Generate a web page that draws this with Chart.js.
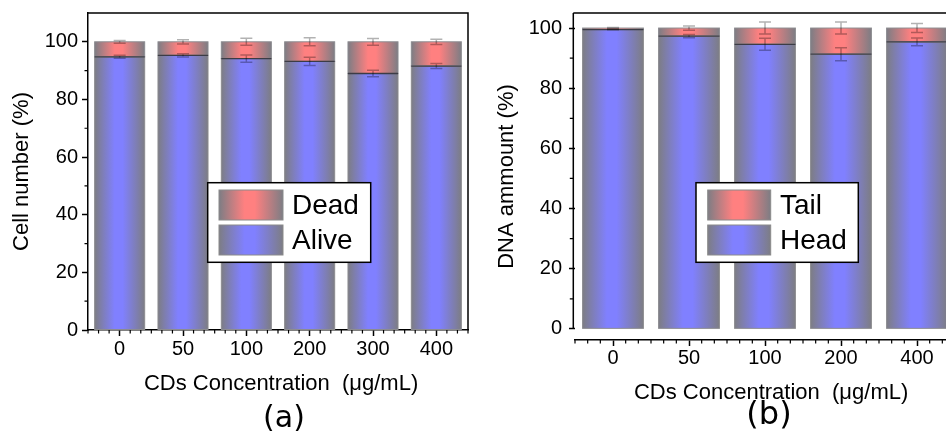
<!DOCTYPE html>
<html>
<head>
<meta charset="utf-8">
<script src="https://cdn.jsdelivr.net/npm/chart.js@4.4.0/dist/chart.umd.min.js"></script>
<style>
html, body { margin: 0; padding: 0; background: #fff; overflow: hidden; }
body { width: 946px; height: 432px; position: relative; }
.panel { position: absolute; top: 0; width: 480px; height: 432px; }
#wrapA { left: 0; }
#wrapB { left: 480px; }
.tag { position: absolute; font-family: "DejaVu Sans"; color: #000; transform: translate(-50%, -50%); white-space: nowrap; }
</style>
</head>
<body>
<div class="panel" id="wrapA"><canvas id="chartA" width="480" height="432"></canvas></div>
<div class="panel" id="wrapB"><canvas id="chartB" width="480" height="432"></canvas></div>
<div class="tag" style="left:284px;top:416px;font-size:30px">(a)</div>
<div class="tag" style="left:769px;top:413px;font-size:32px">(b)</div>
<script>
// Данные панели (a): живые / мёртвые клетки
const labelsA = ['0', '50', '100', '200', '300', '400'];
const aliveA = [94.8, 95.3, 94.2, 93.2, 89.0, 91.6];
const aliveErrA = [0.5, 0.6, 1.25, 1.45, 1.15, 0.9];
const deadA = [5.2, 4.7, 5.8, 6.8, 11.0, 8.4];
const deadErrA = [0.5, 0.75, 1.2, 1.4, 1.15, 0.9];

// Данные панели (b): ДНК в голове / хвосте кометы
const labelsB = ['0', '50', '100', '200', '400'];
const headB = [99.5, 97.3, 94.6, 91.3, 95.4];
const headErrB = [0.1, 0.55, 2.0, 2.15, 1.3];
const tailB = [0.5, 2.7, 5.4, 8.7, 4.6];
const tailErrB = [0.2, 0.7, 2.0, 2.0, 1.5];

const yTicks = [0, 20, 40, 60, 80, 100];
const yMinor = [10, 30, 50, 70, 90];

const BLUE = '#8080ff';
const RED = '#ff8080';
const GRAY = '#7d7d84';
const FONT = 'Liberation Sans';

function addStops(g, color) {
    g.addColorStop(0, GRAY);
    g.addColorStop(0.4, color);
    g.addColorStop(0.56, color);
    g.addColorStop(1, GRAY);
    return g;
}

// Градиент серый - цвет - серый поперёк столбика
function barGradient(ctx, color, pct) {
    const chart = ctx.chart;
    const xs = chart.scales.x;
    if (!xs || !chart.chartArea || ctx.dataIndex === undefined) return color;
    const cx = xs.getPixelForValue(ctx.dataIndex);
    const w = (xs.getPixelForValue(1) - xs.getPixelForValue(0)) * pct;
    return addStops(chart.ctx.createLinearGradient(cx - w / 2, 0, cx + w / 2, 0), color);
}

// Контуры столбиков, граница между частями и планки погрешностей
const barMarks = {
    id: 'barMarks',
    afterDatasetsDraw(chart) {
        const { ctx, scales: { x, y } } = chart;
        ctx.save();
        chart.data.datasets.forEach((ds, di) => {
            chart.getDatasetMeta(di).data.forEach(bar => {
                const p = bar.getProps(['x', 'y', 'base', 'width'], true);
                ctx.strokeStyle = '#8c8c90';
                ctx.lineWidth = 1;
                ctx.strokeRect(p.x - p.width / 2, p.y, p.width, p.base - p.y);
            });
        });
        // тёмная линия на стыке двух частей
        chart.getDatasetMeta(0).data.forEach(bar => {
            const p = bar.getProps(['x', 'y', 'width'], true);
            ctx.strokeStyle = '#3c3c46';
            ctx.lineWidth = 1.3;
            ctx.beginPath();
            ctx.moveTo(p.x - p.width / 2, p.y);
            ctx.lineTo(p.x + p.width / 2, p.y);
            ctx.stroke();
        });

        ctx.strokeStyle = 'rgba(0,0,0,0.3)';
        ctx.lineWidth = 1.5;
        chart.data.datasets.forEach((ds, di) => {
            ds.data.forEach((v, i) => {
                let top = 0;
                for (let k = 0; k <= di; k++) top += chart.data.datasets[k].data[i];
                const e = ds.errors[i];
                const cx = x.getPixelForValue(i);
                const y1 = y.getPixelForValue(top + e);
                const y2 = y.getPixelForValue(top - e);
                ctx.beginPath();
                ctx.moveTo(cx, y1); ctx.lineTo(cx, y2);
                ctx.moveTo(cx - 6, y1); ctx.lineTo(cx + 6, y1);
                ctx.moveTo(cx - 6, y2); ctx.lineTo(cx + 6, y2);
                ctx.stroke();
            });
        });
        ctx.restore();
    }
};

// Рамка, оси и мелкие деления
const frame = {
    id: 'frame',
    afterDraw(chart, args, opts) {
        const { ctx, chartArea: a, scales: { x, y } } = chart;
        const ax = a.left - (opts.axisGap || 0);
        ctx.save();
        ctx.strokeStyle = '#000';
        ctx.lineWidth = 1.5;
        ctx.beginPath();
        if (opts.ownYAxis) {
            ctx.moveTo(ax, y.getPixelForValue(0));
            ctx.lineTo(ax, a.top);
        }
        ctx.moveTo(ax, a.top);
        ctx.lineTo(a.right, a.top);
        ctx.lineTo(a.right, a.bottom);
        ctx.stroke();

        ctx.lineWidth = 1.2;
        ctx.beginPath();
        yMinor.forEach(v => {
            const py = y.getPixelForValue(v);
            ctx.moveTo(ax - 3.5, py); ctx.lineTo(ax, py);
        });
        const n = chart.data.labels.length;
        for (let k = 0; k <= n * 6; k++) {
            if ((k - 3) % 6 === 0) continue;
            const px = x.getPixelForValue(-0.5 + k / 6);
            ctx.moveTo(px, a.bottom); ctx.lineTo(px, a.bottom + 3.5);
        }
        ctx.stroke();
        ctx.restore();
    }
};

// Легенда в рамке внутри графика
const boxLegend = {
    id: 'boxLegend',
    afterDraw(chart, args, opts) {
        const ctx = chart.ctx;
        const [bx, by, bw, bh] = opts.box;
        ctx.save();
        ctx.fillStyle = '#fff';
        ctx.fillRect(bx, by, bw, bh);
        ctx.strokeStyle = '#000';
        ctx.lineWidth = 1.5;
        ctx.strokeRect(bx, by, bw, bh);
        const items = chart.data.datasets.slice().reverse();
        items.forEach((ds, i) => {
            const sx = opts.swatchX, sy = opts.swatchY + i * opts.step;
            ctx.fillStyle = addStops(ctx.createLinearGradient(sx, 0, sx + opts.swatchW, 0), ds.baseColor);
            ctx.fillRect(sx, sy, opts.swatchW, opts.swatchH);
            ctx.strokeStyle = '#8a8a8a';
            ctx.lineWidth = 1;
            ctx.strokeRect(sx, sy, opts.swatchW, opts.swatchH);
            ctx.fillStyle = '#000';
            ctx.font = '28px "' + FONT + '"';
            ctx.textBaseline = 'middle';
            ctx.fillText(ds.label, opts.textX, sy + opts.swatchH / 2 + 1);
        });
        ctx.restore();
    }
};

function makeDataset(label, data, errors, color, pct) {
    return {
        label: label,
        data: data,
        errors: errors,
        baseColor: color,
        backgroundColor: ctx => barGradient(ctx, color, pct),
        borderWidth: 0,
        inflateAmount: 0,
        barPercentage: pct,
        categoryPercentage: 1
    };
}

function makeChart(id, cfg) {
    const tickFont = { family: FONT, size: 20 };
    const titleFont = { family: FONT, size: 22 };
    return new Chart(document.getElementById(id), {
        type: 'bar',
        data: {
            labels: cfg.labels,
            datasets: [
                makeDataset(cfg.names[0], cfg.low, cfg.lowErr, BLUE, cfg.pct),
                makeDataset(cfg.names[1], cfg.high, cfg.highErr, RED, cfg.pct)
            ]
        },
        options: {
            responsive: false,
            animation: false,
            events: [],
            layout: { padding: cfg.padding },
            plugins: {
                legend: { display: false },
                tooltip: { enabled: false },
                frame: cfg.frame,
                boxLegend: cfg.legend
            },
            scales: {
                x: {
                    stacked: true,
                    offset: true,
                    grid: { drawOnChartArea: false, offset: false, tickLength: 6, tickWidth: 1.5, tickColor: '#000' },
                    border: { display: true, color: '#000', width: 1.5 },
                    ticks: { color: '#000', font: tickFont, padding: cfg.xTickPad, maxRotation: 0, autoSkip: false },
                    title: { display: true, text: cfg.xTitle, color: '#000', font: titleFont, padding: { top: 0, bottom: 0 } },
                    afterFit(s) { s.height = cfg.xHeight; s.paddingLeft = 0; s.paddingRight = 0; }
                },
                y: {
                    stacked: true,
                    min: cfg.yMin,
                    max: cfg.yMax,
                    afterBuildTicks(s) { s.ticks = yTicks.map(v => ({ value: v })); },
                    grid: { drawOnChartArea: false, tickLength: 6, tickWidth: 1.5, tickColor: '#000' },
                    border: { display: !cfg.frame.ownYAxis, color: '#000', width: 1.5 },
                    ticks: { color: '#000', font: tickFont, padding: cfg.yTickPad },
                    title: { display: true, text: cfg.yTitle, color: '#000', font: titleFont, padding: { top: cfg.yTitlePad, bottom: 0 } },
                    afterFit(s) { s.width = cfg.yWidth; s.paddingTop = 0; s.paddingBottom = 0; }
                }
            }
        },
        plugins: [barMarks, frame, boxLegend]
    });
}

makeChart('chartA', {
    labels: labelsA,
    names: ['Alive', 'Dead'],
    low: aliveA, lowErr: aliveErrA,
    high: deadA, highErr: deadErrA,
    pct: 0.79,
    yMin: 0, yMax: 110,
    yTitle: 'Cell number (%)',
    xTitle: ' CDs Concentration  (μg/mL)',
    padding: { left: 0, top: 13, right: 12, bottom: 35 },
    xHeight: 67, yWidth: 88,
    xTickPad: 1, yTickPad: 4, yTitlePad: 9,
    frame: { ownYAxis: false, axisGap: 0 },
    legend: { box: [207.7, 182.7, 163, 79.6], swatchX: 219, swatchY: 190, swatchW: 64, swatchH: 30, step: 35, textX: 292 }
});

makeChart('chartB', {
    labels: labelsB,
    names: ['Head', 'Tail'],
    low: headB, lowErr: headErrB,
    high: tailB, highErr: tailErrB,
    pct: 0.8,
    yMin: -3.7, yMax: 105,
    yTitle: 'DNA ammount (%)',
    xTitle: '  CDs Concentration  (μg/mL)',
    padding: { left: 0, top: 13, right: 5, bottom: 26 },
    xHeight: 66, yWidth: 95,
    xTickPad: 0, yTickPad: 7, yTitlePad: 13.5,
    frame: { ownYAxis: true, axisGap: 1.7 },
    legend: { box: [216, 182.7, 162.3, 79.6], swatchX: 227.7, swatchY: 190, swatchW: 63, swatchH: 30, step: 35, textX: 300 }
});
</script>
</body>
</html>
